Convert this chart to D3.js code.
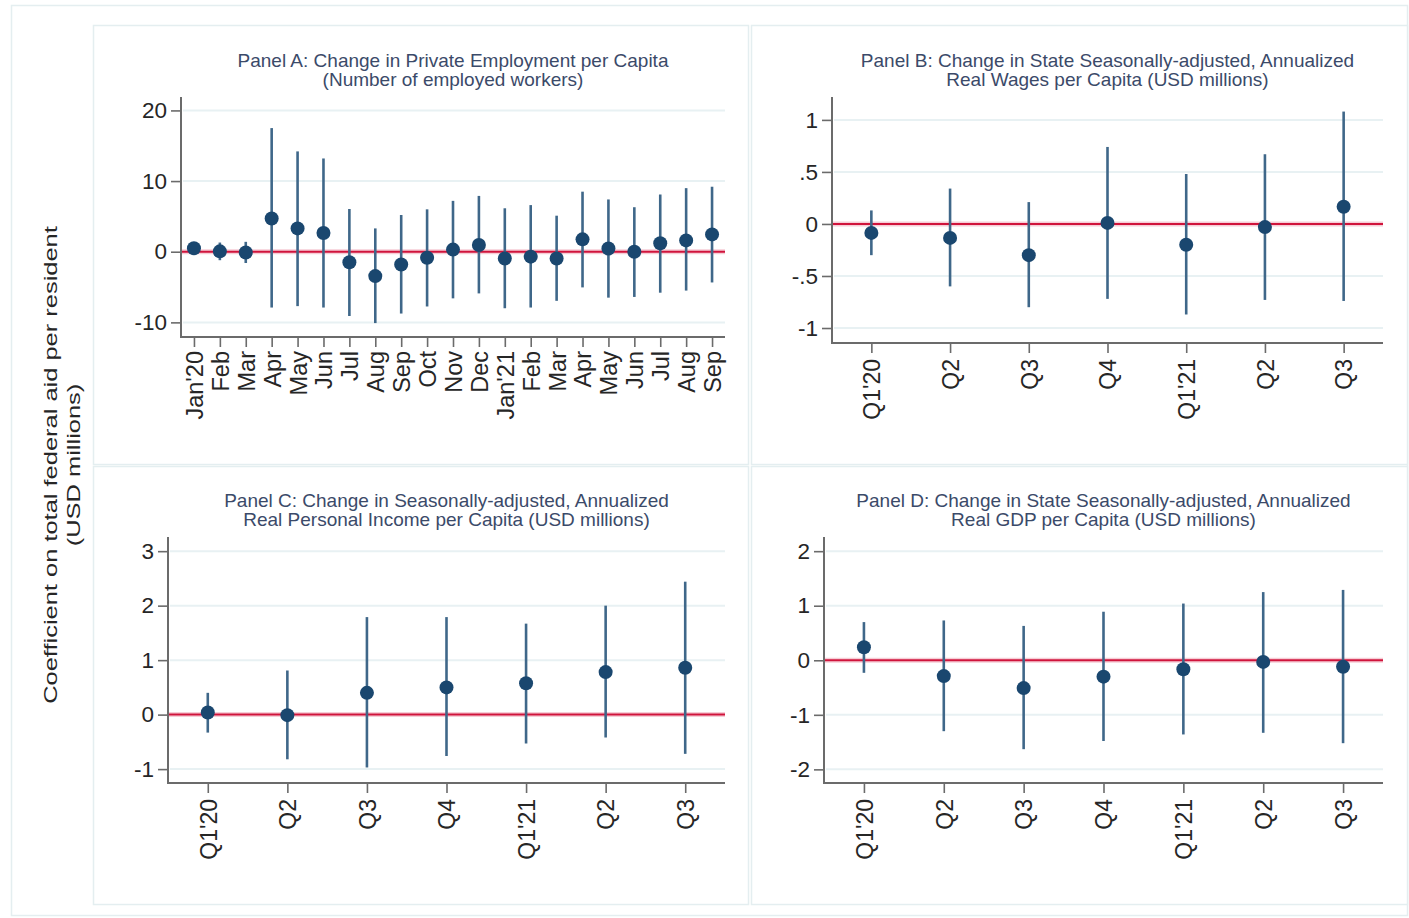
<!DOCTYPE html>
<html><head><meta charset="utf-8">
<script src="https://cdn.jsdelivr.net/npm/d3@7"></script>
<style>
body{margin:0;background:#fff}
svg{display:block}
text{font-family:"Liberation Sans",Arial,Helvetica,sans-serif}
</style>
</head><body>
<svg id="chart" width="1409" height="918"></svg>
<script>
// ---------------- DATA ----------------
const monthLabels = ["Jan'20","Feb","Mar","Apr","May","Jun","Jul","Aug","Sep","Oct","Nov","Dec","Jan'21","Feb","Mar","Apr","May","Jun","Jul","Aug","Sep"];
const quarterLabels = ["Q1'20","Q2","Q3","Q4","Q1'21","Q2","Q3"];

// Panel A: private employment per capita
const empEst = [0.5, 0.05, -0.1, 4.7, 3.3, 2.65, -1.5, -3.45, -1.8, -0.85, 0.3, 0.95, -0.95, -0.7, -0.95, 1.75, 0.45, 0.0, 1.2, 1.6, 2.45];
const empLo  = [-0.2, -1.2, -1.6, -7.9, -7.7, -7.9, -9.1, -10.1, -8.75, -7.75, -6.6, -5.9, -8.0, -7.9, -6.95, -5.05, -6.5, -6.4, -5.8, -5.5, -4.35];
const empHi  = [1.2, 1.3, 1.4, 17.5, 14.2, 13.2, 6.05, 3.3, 5.2, 6.0, 7.2, 7.9, 6.15, 6.6, 5.1, 8.5, 7.4, 6.3, 8.1, 9.0, 9.2];

// Panel B: real wages per capita
const wageEst = [-0.086, -0.134, -0.30, 0.01, -0.20, -0.03, 0.166];
const wageLo  = [-0.30, -0.60, -0.80, -0.72, -0.87, -0.73, -0.74];
const wageHi  = [0.13, 0.34, 0.21, 0.74, 0.48, 0.67, 1.08];

// Panel C: real personal income per capita
const incEst = [0.04, -0.01, 0.40, 0.50, 0.575, 0.78, 0.86];
const incLo  = [-0.33, -0.82, -0.97, -0.76, -0.53, -0.42, -0.72];
const incHi  = [0.40, 0.81, 1.79, 1.79, 1.67, 2.0, 2.44];

// Panel D: real GDP per capita
const gdpEst = [0.24, -0.29, -0.51, -0.30, -0.165, -0.03, -0.12];
const gdpLo  = [-0.23, -1.30, -1.63, -1.48, -1.36, -1.33, -1.52];
const gdpHi  = [0.70, 0.73, 0.63, 0.89, 1.04, 1.25, 1.29];

// Tick values and labels
const ticksA = [20, 10, 0, -10];
const tickLabelsA = ["20", "10", "0", "-10"];
const ticksB = [1, 0.5, 0, -0.5, -1];
const tickLabelsB = ["1", ".5", "0", "-.5", "-1"];
const ticksC = [3, 2, 1, 0, -1];
const tickLabelsC = ["3", "2", "1", "0", "-1"];
const ticksD = [2, 1, 0, -1, -2];
const tickLabelsD = ["2", "1", "0", "-1", "-2"];

const titlesA = ["Panel A: Change in Private Employment per Capita", "(Number of employed workers)"];
const titlesB = ["Panel B: Change in State Seasonally-adjusted, Annualized", "Real Wages per Capita (USD millions)"];
const titlesC = ["Panel C: Change in Seasonally-adjusted, Annualized", "Real Personal Income per Capita (USD millions)"];
const titlesD = ["Panel D: Change in State Seasonally-adjusted, Annualized", "Real GDP per Capita (USD millions)"];

const yTitle = ["Coefficient on total federal aid per resident", "(USD millions)"];

// ---------------- STYLE / LAYOUT ----------------
const C = {
  border: "#e4eef0",
  grid: "#e8f1f3",
  axis: "#6b6b6b",
  tickText: "#262626",
  title: "#3b4a69",
  ci: "#3f6789",
  marker: "#1a476f",
  ref: "#d0143c",
  refHalo: "#f6cdd6"
};

const svg = d3.select("#chart");

// outer frame
svg.append("rect").attr("x", 11.5).attr("y", 5.5).attr("width", 1396).attr("height", 910)
  .attr("fill", "none").attr("stroke", C.border).attr("stroke-width", 1.5);

const panels = [
  {box:[93,25,655,439], x0:181, x1:725, yTop:97, yBot:337, dom:[-12.07,21.9],
   cats:monthLabels, est:empEst, lo:empLo, hi:empHi, ticks:ticksA, tlab:tickLabelsA, titles:titlesA,
   tBase:67, labTop:351, xFont:23.5},
  {box:[751,25,656,439], x0:832, x1:1383, yTop:97, yBot:343, dom:[-1.144,1.22],
   cats:quarterLabels, est:wageEst, lo:wageLo, hi:wageHi, ticks:ticksB, tlab:tickLabelsB, titles:titlesB,
   tBase:67, labTop:359, xFont:23},
  {box:[93,466,655,438], x0:168, x1:725, yTop:537, yBot:783, dom:[-1.255,3.26],
   cats:quarterLabels, est:incEst, lo:incLo, hi:incHi, ticks:ticksC, tlab:tickLabelsC, titles:titlesC,
   tBase:507, labTop:799, xFont:23},
  {box:[751,466,656,438], x0:824, x1:1383, yTop:537, yBot:783, dom:[-2.25,2.26],
   cats:quarterLabels, est:gdpEst, lo:gdpLo, hi:gdpHi, ticks:ticksD, tlab:tickLabelsD, titles:titlesD,
   tBase:507, labTop:799, xFont:23}
];

panels.forEach(p => {
  const g = svg.append("g");
  // panel frame
  g.append("rect").attr("x", p.box[0] + 0.5).attr("y", p.box[1] + 0.5)
    .attr("width", p.box[2]).attr("height", p.box[3])
    .attr("fill", "#fff").attr("stroke", C.border).attr("stroke-width", 1.5);

  const idx = d3.range(p.cats.length);
  const x = d3.scalePoint().domain(idx).range([p.x0, p.x1]).padding(0.5);
  const y = d3.scaleLinear().domain(p.dom).range([p.yBot, p.yTop]);

  // gridlines
  g.append("g").selectAll("line").data(p.ticks.filter(t => t !== 0)).join("line")
    .attr("x1", p.x0 + 2).attr("x2", p.x1)
    .attr("y1", d => y(d)).attr("y2", d => y(d))
    .attr("stroke", C.grid).attr("stroke-width", 2);

  // y axis
  const yAxis = d3.axisLeft(y).tickValues(p.ticks)
    .tickFormat((d, i) => p.tlab[i]).tickSize(10).tickPadding(4);
  const ya = g.append("g").attr("transform", `translate(${p.x0},0)`).call(yAxis);
  ya.select(".domain").remove();
  ya.selectAll(".tick line").attr("stroke", C.axis).attr("stroke-width", 1.6);
  ya.selectAll(".tick text").attr("fill", C.tickText).attr("font-size", 22.5)
    .attr("font-family", '"Liberation Sans",Arial,sans-serif');
  g.append("line").attr("x1", p.x0).attr("x2", p.x0).attr("y1", p.yTop).attr("y2", p.yBot + 1)
    .attr("stroke", C.axis).attr("stroke-width", 2);

  // x axis
  const xAxis = d3.axisBottom(x).tickFormat(i => p.cats[i]).tickSize(10).tickPadding(0);
  const xa = g.append("g").attr("transform", `translate(0,${p.yBot})`).call(xAxis);
  xa.select(".domain").remove();
  xa.selectAll(".tick line").attr("stroke", C.axis).attr("stroke-width", 1.6);
  xa.selectAll(".tick text")
    .attr("fill", C.tickText).attr("font-size", p.xFont)
    .attr("font-family", '"Liberation Sans",Arial,sans-serif')
    .attr("text-anchor", "end")
    .attr("y", 0).attr("dy", "0.36em")
    .attr("transform", `translate(0,${p.labTop - p.yBot}) rotate(-90)`);
  g.append("line").attr("x1", p.x0 - 1).attr("x2", p.x1).attr("y1", p.yBot).attr("y2", p.yBot)
    .attr("stroke", C.axis).attr("stroke-width", 2);

  // zero reference line
  g.append("line").attr("x1", p.x0 + 1).attr("x2", p.x1).attr("y1", y(0)).attr("y2", y(0))
    .attr("stroke", C.refHalo).attr("stroke-width", 5);
  g.append("line").attr("x1", p.x0 + 1).attr("x2", p.x1).attr("y1", y(0)).attr("y2", y(0))
    .attr("stroke", C.ref).attr("stroke-width", 2);

  // confidence intervals
  g.append("g").selectAll("line").data(idx).join("line")
    .attr("x1", i => x(i)).attr("x2", i => x(i))
    .attr("y1", i => y(p.lo[i])).attr("y2", i => y(p.hi[i]))
    .attr("stroke", C.ci).attr("stroke-width", 2.6);

  // point estimates
  g.append("g").selectAll("circle").data(idx).join("circle")
    .attr("cx", i => x(i)).attr("cy", i => y(p.est[i])).attr("r", 7)
    .attr("fill", C.marker);

  // title
  const cx = (p.x0 + p.x1) / 2;
  p.titles.forEach((t, k) => {
    g.append("text").attr("x", cx).attr("y", p.tBase + k * 19)
      .attr("text-anchor", "middle").attr("font-size", 19).attr("fill", C.title).text(t);
  });
});

// global y title (rotated, stretched along its length as in the original rendering)
yTitle.forEach((t, k) => {
  svg.append("text")
    .attr("transform", `translate(${57 + k * 23},465) rotate(-90) scale(1.34,1)`)
    .attr("text-anchor", "middle").attr("font-size", 19).attr("fill", "#262626")
    .text(t);
});
</script>
</body></html>
